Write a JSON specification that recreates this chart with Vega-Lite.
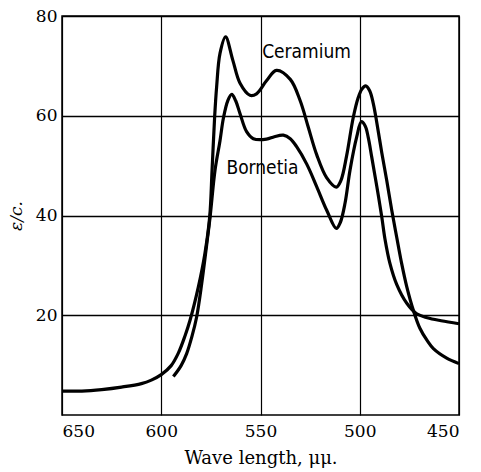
{
  "$schema": "https://vega.github.io/schema/vega-lite/v6.json",
  "width": 397,
  "height": 399,
  "autosize": {"type": "none"},
  "padding": {"left": 62, "top": 16, "right": 22, "bottom": 57},
  "background": "white",
  "config": {
    "view": {"stroke": "black", "strokeWidth": 1.5},
    "axis": {"labelFont": "DejaVu Serif", "titleFont": "DejaVu Serif", "labelColor": "black", "titleColor": "black"}
  },
  "datasets": {
    "curves": [
      {"series": "Ceramium", "wl": 650, "v": 4.8},
      {"series": "Ceramium", "wl": 640, "v": 4.8},
      {"series": "Ceramium", "wl": 630, "v": 5.1},
      {"series": "Ceramium", "wl": 620, "v": 5.6},
      {"series": "Ceramium", "wl": 610, "v": 6.3},
      {"series": "Ceramium", "wl": 605, "v": 7.0},
      {"series": "Ceramium", "wl": 600, "v": 8.1},
      {"series": "Ceramium", "wl": 595, "v": 9.9},
      {"series": "Ceramium", "wl": 591.4, "v": 12.4},
      {"series": "Ceramium", "wl": 588, "v": 15.9},
      {"series": "Ceramium", "wl": 585.5, "v": 19.0},
      {"series": "Ceramium", "wl": 581.3, "v": 25.7},
      {"series": "Ceramium", "wl": 578, "v": 32.4},
      {"series": "Ceramium", "wl": 575.6, "v": 39.7},
      {"series": "Ceramium", "wl": 574.4, "v": 49.1},
      {"series": "Ceramium", "wl": 573.1, "v": 59.8},
      {"series": "Ceramium", "wl": 572.1, "v": 65.8},
      {"series": "Ceramium", "wl": 570.4, "v": 72.5},
      {"series": "Ceramium", "wl": 567.6, "v": 75.8},
      {"series": "Ceramium", "wl": 564, "v": 71.2},
      {"series": "Ceramium", "wl": 560.3, "v": 66.5},
      {"series": "Ceramium", "wl": 555.3, "v": 64.1},
      {"series": "Ceramium", "wl": 552, "v": 64.4},
      {"series": "Ceramium", "wl": 547, "v": 67.0},
      {"series": "Ceramium", "wl": 542, "v": 69.1},
      {"series": "Ceramium", "wl": 535, "v": 67.3},
      {"series": "Ceramium", "wl": 530, "v": 63.0},
      {"series": "Ceramium", "wl": 526, "v": 57.8},
      {"series": "Ceramium", "wl": 521.7, "v": 52.2},
      {"series": "Ceramium", "wl": 516.7, "v": 47.6},
      {"series": "Ceramium", "wl": 511.8, "v": 45.7},
      {"series": "Ceramium", "wl": 509.5, "v": 47.0},
      {"series": "Ceramium", "wl": 506.6, "v": 52.0},
      {"series": "Ceramium", "wl": 503.3, "v": 59.6},
      {"series": "Ceramium", "wl": 500.8, "v": 63.6},
      {"series": "Ceramium", "wl": 499, "v": 65.3},
      {"series": "Ceramium", "wl": 497, "v": 66.0},
      {"series": "Ceramium", "wl": 495, "v": 65.0},
      {"series": "Ceramium", "wl": 493.2, "v": 62.5},
      {"series": "Ceramium", "wl": 491.4, "v": 58.6},
      {"series": "Ceramium", "wl": 488.9, "v": 52.6},
      {"series": "Ceramium", "wl": 486.4, "v": 47.0},
      {"series": "Ceramium", "wl": 483.9, "v": 41.1},
      {"series": "Ceramium", "wl": 481.4, "v": 35.7},
      {"series": "Ceramium", "wl": 478.9, "v": 30.4},
      {"series": "Ceramium", "wl": 476.3, "v": 25.7},
      {"series": "Ceramium", "wl": 473.0, "v": 21.0},
      {"series": "Ceramium", "wl": 469.7, "v": 17.4},
      {"series": "Ceramium", "wl": 466, "v": 14.9},
      {"series": "Ceramium", "wl": 462.9, "v": 13.3},
      {"series": "Ceramium", "wl": 456.2, "v": 11.4},
      {"series": "Ceramium", "wl": 450, "v": 10.3},
      {"series": "Bornetia", "wl": 593.9, "v": 7.7},
      {"series": "Bornetia", "wl": 590, "v": 9.9},
      {"series": "Bornetia", "wl": 587.2, "v": 12.3},
      {"series": "Bornetia", "wl": 584.5, "v": 15.8},
      {"series": "Bornetia", "wl": 582.2, "v": 19.6},
      {"series": "Bornetia", "wl": 579.6, "v": 26.4},
      {"series": "Bornetia", "wl": 577.1, "v": 34.2},
      {"series": "Bornetia", "wl": 575.4, "v": 39.7},
      {"series": "Bornetia", "wl": 572.9, "v": 49.1},
      {"series": "Bornetia", "wl": 570.4, "v": 55.0},
      {"series": "Bornetia", "wl": 568.7, "v": 59.5},
      {"series": "Bornetia", "wl": 566.5, "v": 63.0},
      {"series": "Bornetia", "wl": 564.5, "v": 64.3},
      {"series": "Bornetia", "wl": 562.5, "v": 63.0},
      {"series": "Bornetia", "wl": 560.3, "v": 60.4},
      {"series": "Bornetia", "wl": 557, "v": 56.8},
      {"series": "Bornetia", "wl": 553.6, "v": 55.4},
      {"series": "Bornetia", "wl": 547, "v": 55.3},
      {"series": "Bornetia", "wl": 543, "v": 55.8},
      {"series": "Bornetia", "wl": 538.5, "v": 56.1},
      {"series": "Bornetia", "wl": 535, "v": 55.4},
      {"series": "Bornetia", "wl": 531.8, "v": 53.8},
      {"series": "Bornetia", "wl": 526.7, "v": 50.3},
      {"series": "Bornetia", "wl": 521.7, "v": 45.8},
      {"series": "Bornetia", "wl": 516.7, "v": 41.1},
      {"series": "Bornetia", "wl": 511.8, "v": 37.4},
      {"series": "Bornetia", "wl": 509.8, "v": 38.6},
      {"series": "Bornetia", "wl": 507.4, "v": 42.5},
      {"series": "Bornetia", "wl": 504.9, "v": 49.1},
      {"series": "Bornetia", "wl": 501.5, "v": 55.8},
      {"series": "Bornetia", "wl": 499.2, "v": 58.8},
      {"series": "Bornetia", "wl": 497.2, "v": 57.9},
      {"series": "Bornetia", "wl": 495.7, "v": 55.6},
      {"series": "Bornetia", "wl": 494, "v": 51.8},
      {"series": "Bornetia", "wl": 491.4, "v": 45.8},
      {"series": "Bornetia", "wl": 488.9, "v": 39.7},
      {"series": "Bornetia", "wl": 487.3, "v": 35.3},
      {"series": "Bornetia", "wl": 484.8, "v": 30.4},
      {"series": "Bornetia", "wl": 481.4, "v": 26.2},
      {"series": "Bornetia", "wl": 476.3, "v": 22.4},
      {"series": "Bornetia", "wl": 471.3, "v": 20.3},
      {"series": "Bornetia", "wl": 466, "v": 19.5},
      {"series": "Bornetia", "wl": 459, "v": 18.9},
      {"series": "Bornetia", "wl": 450, "v": 18.3}
    ],
    "labels": [
      {"label": "Ceramium", "wl": 526.8, "v": 72.8},
      {"label": "Bornetia", "wl": 549, "v": 49.5}
    ]
  },
  "layer": [
    {
      "data": {"name": "curves"},
      "mark": {"type": "line", "color": "black", "strokeWidth": 3.2, "interpolate": "catmull-rom"},
      "encoding": {
        "x": {
          "field": "wl", "type": "quantitative",
          "scale": {"domain": [650, 450], "nice": false, "zero": false},
          "axis": {
            "values": [650, 600, 550, 500, 450],
            "title": "Wave length, μμ.",
            "titleFontSize": 18, "titleFontWeight": "normal", "titlePadding": 10,
            "labelFontSize": 17, "labelPadding": 8,
            "ticks": false, "domain": false,
            "grid": true, "gridColor": "black", "gridWidth": 1.2, "gridOpacity": 1
          }
        },
        "y": {
          "field": "v", "type": "quantitative",
          "scale": {"domain": [0, 80], "nice": false},
          "axis": {
            "values": [20, 40, 60, 80],
            "title": "ε/c.",
            "titleFontSize": 17, "titleFontWeight": "normal", "titleFontStyle": "italic", "titlePadding": 10,
            "labelFontSize": 17, "labelPadding": 5,
            "ticks": false, "domain": false,
            "grid": true, "gridColor": "black", "gridWidth": 1.6, "gridOpacity": 1
          }
        },
        "detail": {"field": "series", "type": "nominal"}
      }
    },
    {
      "data": {"name": "labels"},
      "mark": {"type": "text", "font": "DejaVu Sans Condensed", "fontSize": 19, "color": "black", "align": "center", "baseline": "middle"},
      "encoding": {
        "x": {"field": "wl", "type": "quantitative"},
        "y": {"field": "v", "type": "quantitative"},
        "text": {"field": "label", "type": "nominal"}
      }
    }
  ]
}
